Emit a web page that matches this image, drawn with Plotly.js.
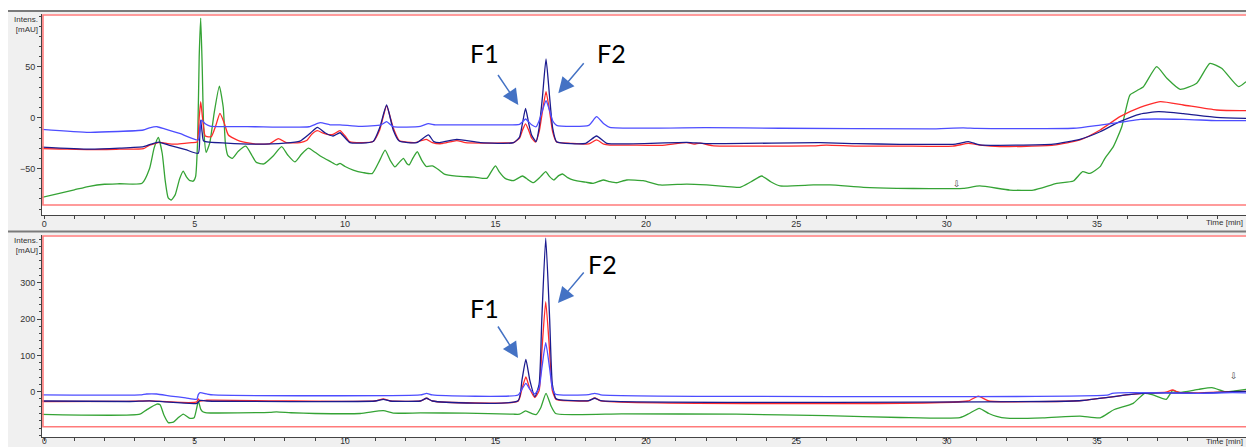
<!DOCTYPE html>
<html>
<head>
<meta charset="utf-8">
<script src="https://cdn.plot.ly/plotly-3.0.1.min.js"></script>
<style>
html,body{margin:0;padding:0;background:#ffffff;}
#chart{width:1246px;height:447px;}
</style>
</head>
<body>
<div id="chart"></div>
<script>
// ---------- TOP PANEL (chromatogram 1) ----------
const topGreenT = [-0.08,0.5,1.0,1.5,2.0,2.5,3.25,3.5,3.65,3.79,3.92,4.02,4.12,4.22,4.35,4.5,4.62,4.72,4.82,4.95,5.03,5.1,5.15,5.2,5.25,5.3,5.38,5.5,5.65,5.82,5.95,6.02,6.1,6.25,6.45,6.7,6.9,7.05,7.3,7.6,7.89,8.1,8.33,8.55,8.78,9.0,9.22,9.5,9.72,9.83,10.0,10.27,10.6,10.9,11.15,11.33,11.5,11.66,11.8,11.94,12.05,12.13,12.25,12.4,12.55,12.7,12.9,13.1,13.3,13.7,14.3,14.71,14.88,15.0,15.12,15.32,15.59,15.9,16.08,16.26,16.5,16.67,16.8,16.94,17.1,17.23,17.4,17.6,18.0,18.25,18.58,18.8,19.03,19.36,19.91,20.47,21.36,22.02,22.6,23.13,23.5,23.85,24.15,24.46,25.57,26.12,27.23,28.34,29.44,30.55,31.1,32.1,32.88,33.66,34.21,34.52,34.76,35.1,35.26,35.54,35.82,36.09,36.32,36.54,36.98,37.32,37.76,38.31,38.75,39.14,39.7,39.95];
const topGreenY = [-78.5,-74.5,-71,-67.5,-65.5,-65,-64.5,-50,-30,-19.5,-35,-62,-79,-81,-76,-60,-52.5,-58,-61.5,-62.5,-58,-20,60,98,50,-10,-34,-25,5,31,10,-25,-37,-40,-33,-28,-37,-44,-45.5,-38,-28.5,-37,-43.5,-36,-30,-34,-38.5,-43,-46.5,-45,-48,-51.5,-54,-55,-42,-32,-42,-48.5,-44,-40,-45,-46.5,-40,-33.5,-42,-48,-47.5,-51,-55.5,-57.5,-58.5,-59.7,-52,-47.5,-53,-59.7,-62,-57.4,-61,-64,-58,-53,-58,-61.3,-57,-55.4,-59,-61.5,-63.5,-64.6,-61.3,-63,-64,-61.3,-62,-66.2,-65.3,-66.2,-67.5,-68.5,-63,-57.4,-63,-67.2,-66.2,-66.2,-68.5,-69.5,-69.8,-69.5,-67.2,-71.2,-71.2,-64.6,-62.3,-53.1,-54.8,-48.2,-40,-28.5,-8.9,22.3,26.6,30.5,50.2,38.8,27.9,33.9,53.5,48.6,30.5,35.4];

const topRedT = [-0.08,0.5,1.5,2.5,3.3,3.5,3.85,4.1,4.4,4.73,4.9,5.08,5.15,5.2,5.26,5.35,5.55,5.7,5.84,5.98,6.12,6.5,7.06,7.5,7.78,8.05,8.5,8.72,8.9,9.08,9.25,9.4,9.6,9.83,10.0,10.15,10.6,10.93,11.15,11.38,11.6,11.8,12.3,12.7,12.9,13.2,13.71,14.0,14.6,15.3,15.6,15.8,15.9,16.0,16.1,16.2,16.33,16.45,16.56,16.68,16.8,16.9,17.03,17.5,18.1,18.36,18.6,18.8,19.5,20.5,21.36,21.6,21.8,22.2,22.6,24.0,25.5,26.0,27.0,28.45,30.2,30.72,31.1,31.77,33.55,34.43,35.1,35.76,36.43,37.1,37.87,38.97,39.95];
const topRedY = [-30.5,-30.8,-31.5,-31,-30.5,-27,-24.2,-25.5,-26,-25,-24.5,-24,0,15.8,0,-18,-18.7,-8,4.3,-5,-17,-23,-26,-25.5,-20.5,-24.5,-24.5,-22.5,-16,-12.8,-15,-16.5,-16.5,-12.8,-18,-23.5,-24.5,-23.5,-12,11.5,-10,-22.5,-24.5,-21.3,-24.5,-25.6,-22.5,-24.6,-25,-24.8,-24.6,-20,-12,-6,-12,-20,-24,-14,6,25.6,6,-14,-24,-25.2,-25.8,-21.9,-26,-26.9,-27,-27.2,-24.6,-26,-25,-27.5,-28,-28,-27.8,-27,-28,-27.9,-28,-25.3,-27,-28.5,-27,-21.9,-12.1,1,10.2,15.8,12.5,7.6,6.9];

const topNavyT = [-0.08,1.5,2.5,3.3,3.55,3.8,4.2,4.7,5.12,5.17,5.2,5.25,5.3,6.06,7.0,8.0,8.5,8.85,9.08,9.33,9.6,9.83,10.16,10.93,11.15,11.38,11.6,11.8,12.38,12.77,12.95,13.15,13.71,14.5,15.6,15.8,15.9,16.0,16.1,16.2,16.35,16.45,16.56,16.68,16.8,16.9,17.03,18.0,18.36,18.7,21.36,22.0,25.79,27.0,28.45,30.3,30.72,31.1,33.55,34.43,35.1,35.76,36.43,37.04,37.87,38.97,39.95];
const topNavyY = [-29,-31,-30,-28.5,-26,-24,-27.5,-31.5,-35,-15,-2.3,-15,-23,-25,-26,-25,-23,-15,-9.5,-14.8,-18,-14.8,-24.5,-23.5,-10,12.5,-12,-23,-24.6,-17,-23.6,-24.5,-21.3,-24.6,-24.6,-19,-5,9.2,-5,-17,-23.6,-10,20,57.8,20,-10,-23.6,-25.2,-18,-25.2,-24.2,-25.5,-24.6,-25.5,-26.2,-26,-23.6,-26.8,-26,-21.3,-13.8,-3.9,3.6,5.9,4.0,0.4,-0.6];

const topBlueT = [-0.08,1.5,3.29,3.5,3.75,4.0,4.5,5.12,5.18,5.23,5.35,5.51,7.0,8.8,9.17,9.5,9.83,10.5,11.2,11.38,11.6,12.5,12.77,13.0,14.6,15.8,15.9,16.0,16.1,16.2,16.35,16.45,16.56,16.68,16.8,16.9,17.03,18.1,18.36,18.6,18.8,22.0,24.46,29.44,30.55,31.0,34.21,35.1,35.93,36.43,37.87,38.97,39.95];
const topBlueY = [-11.4,-14.4,-12.1,-10,-8.9,-11,-15.5,-21.9,-10,-2.3,-6,-8.2,-8.9,-8.9,-4.9,-7,-7,-8.5,-7,-3.9,-8.9,-8.5,-5.9,-7,-7,-6.5,-4,-1.3,-4,-7,-8.9,-3,7,16.7,7,-3,-7.5,-7.5,1.0,-6,-9.5,-9.8,-10.4,-11,-10,-10.6,-10.4,-7.2,-3.9,-1.6,-1.6,-2.9,-2.9];

// ---------- BOTTOM PANEL (chromatogram 2) ----------
const botGreenT = [-0.08,3.18,3.4,3.74,3.85,3.98,4.12,4.29,4.45,4.62,4.84,4.98,5.08,5.12,5.2,5.27,5.4,7.5,7.72,8.2,9.0,10.5,11.27,11.6,12.5,14.0,15.59,15.8,16.0,16.2,16.35,16.5,16.68,16.85,17.0,19.2,23.0,26.0,28.45,30.44,30.75,31.08,31.4,31.66,32.0,33.2,34.43,35.1,35.54,36.2,36.58,36.86,37.3,37.51,37.73,38.38,38.82,39.27,39.95];
const botGreenY = [-62.4,-62,-50,-34,-36,-65,-85,-84,-72,-61.5,-73.4,-72,-40,-25,-48,-55,-58,-57,-55.6,-58,-60,-60,-52.3,-59,-58.5,-59,-62,-62,-53,-60,-63,-45,-4.5,-40,-60,-61,-62,-66,-71,-71.6,-60,-45.8,-60,-68,-73,-72,-67,-72,-50.4,-32,-4.5,-9,-21,2.8,-2,6.6,11,0,6.6];

const botRedT = [-0.08,2.7,3.5,4.8,5.07,5.12,5.18,5.4,7.7,11.0,11.27,11.5,12.5,12.71,12.9,15.75,15.88,16.01,16.14,16.31,16.45,16.54,16.67,16.8,16.89,17.0,17.1,18.1,18.3,18.5,30.7,31.05,31.4,34.21,34.65,35.3,35.96,36.51,37.29,37.51,37.73,38.38,39.5,39.95];
const botRedY = [-27,-26.5,-25.5,-30,-28,-20,-26,-23.5,-25,-25.6,-20,-25.6,-25.6,-18,-25.6,-26,8,41,8,-16,3,110,248,110,3,-20,-23,-25,-17,-25,-25.6,-12,-25.6,-25.6,-23,-16.5,-9,-4.5,-1,4.7,-2,-3,0,1];

const botNavyT = [-0.08,2.84,3.5,4.0,5.07,5.18,5.4,11.0,11.27,11.5,12.5,12.71,12.9,15.75,15.88,16.01,16.14,16.31,16.45,16.54,16.67,16.8,16.89,17.0,17.1,18.1,18.3,18.5,34.21,34.65,35.3,35.96,36.51,37.29,38.38,39.5,39.95];
const botNavyY = [-25.6,-27,-25,-28,-32,-24,-25.6,-25.6,-21,-25.6,-25.6,-18,-25.6,-25,32,89,32,-13.7,20,200,422.6,200,20,-18,-22,-24.7,-18,-24.7,-25.6,-23,-16.5,-9,-4.5,-3,-4.4,0,1];

const botBlueT = [-0.08,3.18,3.4,3.74,4.2,4.7,5.07,5.12,5.18,5.4,5.62,12.5,12.71,12.9,15.75,15.88,16.01,16.14,16.31,16.45,16.54,16.67,16.8,16.89,17.0,18.1,18.3,18.5,35.37,35.5,36.16,38.38,39.5,39.95];
const botBlueY = [-9,-9,-6.3,-6.3,-12,-17,-21,-8,-2.7,-6.3,-9,-9,-4.5,-9,-9,7,23,7,-6,10,64,135,64,10,-7,-8,-4.5,-8.5,-9,-4.5,-2.6,-4.4,-2.6,-3];

// ---------- tick labels & texts ----------
const xTickVals = [0,5,10,15,20,25,30,35];
const yTopTickVals = [-50,0,50];
const yBotTickVals = [0,100,200,300];
const axisTitleY = "Intens.<br>[mAU]";
const axisTitleX = "Time [min]";
const peakLabels = ["F1", "F2"];

const COL = {green:'#35a335', red:'#ff2b2b', navy:'#1b1b8f', blue:'#4d4dff'};
function tr(x, y, color, xa, ya){
  return {x:x, y:y, type:'scatter', mode:'lines', xaxis:xa, yaxis:ya,
          line:{color:color, width:1.3, shape:'spline', smoothing:0.5}, hoverinfo:'skip', showlegend:false};
}
const data = [
  tr(topGreenT, topGreenY, COL.green, 'x', 'y'),
  tr(topRedT, topRedY, COL.red, 'x', 'y'),
  tr(topNavyT, topNavyY, COL.navy, 'x', 'y'),
  tr(topBlueT, topBlueY, COL.blue, 'x', 'y'),
  tr(botGreenT, botGreenY, COL.green, 'x2', 'y2'),
  tr(botRedT, botRedY, COL.red, 'x2', 'y2'),
  tr(botNavyT, botNavyY, COL.navy, 'x2', 'y2'),
  tr(botBlueT, botBlueY, COL.blue, 'x2', 'y2')
];

const tickFont = {family:'Liberation Sans, Arial, sans-serif', size:9, color:'#333'};
function xax(anchor, standoff, fsize){
  return {anchor:anchor, domain:[0,1], range:[-0.076, 39.95], tickmode:'array', tickvals:xTickVals,
    ticks:'outside', ticklen:3, tickwidth:1, tickcolor:'#444', showline:true, linecolor:'#444', linewidth:1,
    showgrid:false, zeroline:false, tickfont:Object.assign({}, tickFont, {size:fsize}), ticklabelstandoff:standoff,
    minor:{tickmode:'linear', tick0:0, dtick:1, ticks:'outside', ticklen:3, tickcolor:'#444', showgrid:false}};
}
function yax(anchor, domain, range, vals, mdt){
  return {anchor:anchor, domain:domain, range:range, tickmode:'array', tickvals:vals,
    ticks:'outside', ticklen:4, tickwidth:1, tickcolor:'#444', showline:true, linecolor:'#444', linewidth:1,
    showgrid:false, zeroline:false, tickfont:tickFont,
    minor:{tickmode:'linear', tick0:0, dtick:mdt, ticks:'outside', ticklen:2, tickcolor:'#444', showgrid:false}};
}
const PH = 423, PW = 1204;
const px2x = p => (p - 42) / PW;
const py2y = p => (437 - p) / PH;

const annFont = {family:'Liberation Sans, Arial, sans-serif', size:8, color:'#333'};
const bigFont = {family:'Lato, Open Sans, sans-serif', size:25, color:'#000'};
const arrowCol = '#4472c4';
function arrow(tipX, tipY, tailX, tailY){
  return {xref:'paper', yref:'paper', x:px2x(tipX), y:py2y(tipY), ax:tailX-tipX, ay:tailY-tipY,
    text:'', showarrow:true, arrowhead:2, arrowsize:2.1, arrowwidth:1.5, arrowcolor:arrowCol};
}
function lbl(text, cx, cy){
  return {xref:'paper', yref:'paper', x:px2x(cx), y:py2y(cy), xanchor:'center', yanchor:'middle',
    text:text, showarrow:false, font:bigFont};
}

const layout = {
  width:1246, height:447,
  margin:{l:42, r:0, t:14, b:10, pad:0},
  paper_bgcolor:'#f0f0f0', plot_bgcolor:'#ffffff',
  showlegend:false,
  xaxis: xax('y', -3, 9),
  xaxis2: xax('y2', -7, 8.5),
  yaxis: yax('x', [py2y(215), 1], [-95.77, 102.07], yTopTickVals, 10),
  yaxis2: yax('x2', [0, py2y(235)], [-124.7, 431.3], yBotTickVals, 20),
  shapes:[
    {type:'rect', xref:'paper', yref:'paper', x0:px2x(-5), x1:px2x(8), y0:py2y(460), y1:py2y(-5), fillcolor:'#ffffff', line:{width:0}, layer:'below'},
    {type:'rect', xref:'paper', yref:'paper', x0:px2x(-5), x1:px2x(1250), y0:py2y(10.5), y1:py2y(-5), fillcolor:'#ffffff', line:{width:0}, layer:'below'},
    {type:'line', xref:'paper', yref:'paper', x0:px2x(8), x1:px2x(1250), y0:py2y(11), y1:py2y(11), line:{color:'#7a7a7a', width:2}},
    {type:'line', xref:'paper', yref:'paper', x0:px2x(8), x1:px2x(1250), y0:py2y(231.5), y1:py2y(231.5), line:{color:'#7a7a7a', width:2}},
    {type:'rect', xref:'x domain', yref:'y domain', x0:0.0008, x1:1.01, y0:10/201, y1:1-1/201, line:{color:'#ff7b7b', width:1.6}, fillcolor:'rgba(0,0,0,0)'},
    {type:'rect', xref:'x2 domain', yref:'y2 domain', x0:0.0008, x1:1.01, y0:10.3/202, y1:1-1/202, line:{color:'#ff7b7b', width:1.6}, fillcolor:'rgba(0,0,0,0)'}
  ],
  annotations:[
    {xref:'paper', yref:'paper', x:px2x(39.5), y:py2y(13.5), xanchor:'right', yanchor:'top', align:'right', text:axisTitleY, showarrow:false, font:annFont},
    {xref:'paper', yref:'paper', x:px2x(39.5), y:py2y(234.5), xanchor:'right', yanchor:'top', align:'right', text:axisTitleY, showarrow:false, font:annFont},
    {xref:'paper', yref:'paper', x:px2x(1245), y:py2y(222), xanchor:'right', yanchor:'middle', text:axisTitleX, showarrow:false, font:annFont},
    {xref:'paper', yref:'paper', x:px2x(1245), y:py2y(441), xanchor:'right', yanchor:'middle', text:axisTitleX, showarrow:false, font:annFont},
    lbl(peakLabels[0], 484.5, 53),
    lbl(peakLabels[1], 611.5, 53),
    lbl(peakLabels[0], 484.5, 307.5),
    lbl(peakLabels[1], 602.5, 264),
    arrow(518.3, 105, 497, 73.5),
    arrow(558.3, 93.3, 585, 61.7),
    arrow(518, 358, 497, 325),
    arrow(558, 303, 585, 271),
    {xref:'paper', yref:'paper', x:px2x(963.5), y:py2y(184), text:'⇩', showarrow:false, font:{family:'DejaVu Sans', size:9, color:'#444'}},
    {xref:'paper', yref:'paper', x:px2x(1240), y:py2y(383), text:'⇩', showarrow:false, font:{family:'DejaVu Sans', size:9, color:'#444'}}
  ]
};
Plotly.newPlot('chart', data, layout, {displayModeBar:false, staticPlot:true});
</script>
</body>
</html>
